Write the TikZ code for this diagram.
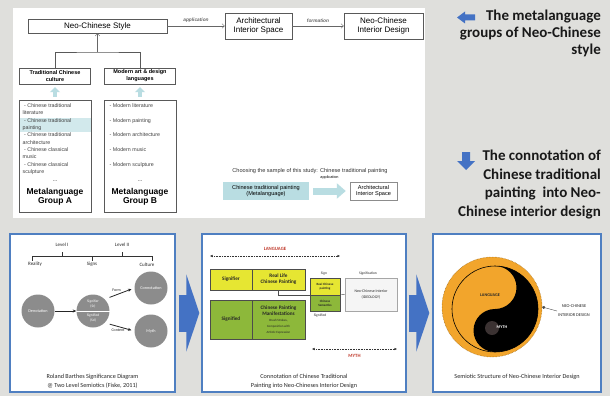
\documentclass[tikz,border=0pt]{standalone}
\usepackage{fontspec}
\setmainfont{Liberation Sans}
\newfontfamily\carlito{Carlito}
\usetikzlibrary{arrows.meta,positioning,calc}
\definecolor{BgGrey}{HTML}{DFDFDC}
\definecolor{PaleTeal}{HTML}{D2E9EC}
\definecolor{ArrTeal}{HTML}{B9DDE2}
\definecolor{FrameBlue}{HTML}{4F7FC1}
\definecolor{FatBlue}{HTML}{4472C4}
\definecolor{DiscGrey}{HTML}{8C8C8C}
\definecolor{SigYellow}{HTML}{E6E632}
\definecolor{SigGreen}{HTML}{8DB83A}
\definecolor{MythRed}{HTML}{C0392B}
\definecolor{YinOrange}{HTML}{F2A52C}
\definecolor{DotBrown}{HTML}{3B3232}
\newcommand{\fs}[2]{\fontsize{#1}{#2}\selectfont}
\newcommand{\minortxt}[1]{{\mdseries\fs{3.2}{4.6}#1}}
\tikzset{
  stylebox/.style={draw=black!65, fill=white, align=center, inner sep=1pt,
    font=\fs{8}{9}},
  grpbox/.style={draw=black!65, fill=white, align=center, inner sep=1pt,
    font=\bfseries\fs{5.5}{7}, minimum height=16pt, minimum width=71pt},
  listbox/.style={draw=black!65, fill=white, minimum width=72pt, minimum height=112pt},
  itemtxt/.style={anchor=north west, align=left, inner sep=0pt,
    font=\fs{5.3}{7.35}, text=black!75},
  grptxt/.style={align=center, inner sep=0pt, font=\bfseries\fs{8.5}{9.6}},
  thinarr/.style={-{Straight Barb[length=2.5pt,width=4.5pt]}, black!60, thin},
  tealup/.style={-{Triangle[width=10pt,length=5pt]}, line width=4.5pt, ArrTeal,
    shorten <=3pt, shorten >=3pt},
  actlbl/.style={font=\bfseries\itshape\fs{4.8}{5}, inner sep=1.5pt},
  panel/.style={draw=FrameBlue, line width=1.4pt, fill=white, minimum width=#1,
    minimum height=158pt, inner sep=0pt},
  bigarr/.style={-{Triangle[width=77pt,length=13pt]}, line width=37pt, FatBlue},
  notetxt/.style={anchor=north east, align=right, inner sep=0pt, text=black!90},
}

\begin{document}
\begin{tikzpicture}[x=1pt, y=-1pt,
  smalltxt/.style={font=\carlito\fs{5}{6}, inner sep=0.5pt, text=black!85},
  disc/.style={circle, fill=DiscGrey, minimum size=33pt, inner sep=0pt,
    text=white, align=center, font=\carlito\fs{4.2}{5}},
  disctxt/.style={align=center, inner sep=0pt, text=white, font=\carlito\fs{3.6}{4.3}},
  darkarr/.style={-{Stealth[length=3.5pt,width=3pt]}, line width=0.8pt, black!85},
  captxt/.style={align=center, inner sep=0pt, font=\carlito\fs{6.2}{9}, text=black!85},
  sigbox/.style={draw=black!70, line width=0.4pt, align=center, inner sep=0pt,
    font=\carlito\bfseries\fs{5.2}{6}, text=black!85},
  tinytxt/.style={align=center, inner sep=0pt, font=\carlito\fs{3.6}{4.3}, text=black!85},
  spanarr/.style={{Latex[length=2.5pt,width=2.5pt]}-{Latex[length=2.5pt,width=2.5pt]},
    dash pattern=on 0.8pt off 0.8pt, line width=0.4pt, black!80},
  redtxt/.style={font=\carlito\bfseries\fs{4.8}{5}, text=MythRed, inner sep=0pt},
]
  \useasboundingbox (0,0) rectangle (610,396);
  \fill[BgGrey] (0,0) rectangle (610,396);
  \fill[white] (13,8) rectangle (425,218);

  \node[stylebox, minimum width=139pt, minimum height=14pt] (ncs) at (97.5,26) {Neo-Chinese Style};
  \node[stylebox, minimum width=67pt, minimum height=26pt] (ais) at (258.5,26) {Architectural\\Interior Space};
  \node[stylebox, minimum width=79pt, minimum height=26pt] (ncid) at (383.5,26) {Neo-Chinese\\Interior Design};
  \draw[thinarr] (ncs) -- node[above, actlbl, yshift=2pt] {application} (ais);
  \draw[thinarr] (ais) -- node[above, actlbl, yshift=2pt] {formation} (ncid);

  \node[grpbox] (tcc) at (55,76) {Traditional Chinese\\culture};
  \node[grpbox] (mad) at (140,76) {Modern art \& design\\languages};
  \coordinate (fork) at (97.5,52);
  \draw[black!65] (tcc.north) |- (fork) -| (mad.north);
  \draw[thinarr] (fork) -- (ncs.south);

  \node[listbox] (lista) at (55,156) {};
  \node[fill=PaleTeal, minimum width=71pt, minimum height=14pt, inner sep=0pt] (hilite) at (55,125) {};
  \node[itemtxt] (itemsa) at (22.5,103.5)
    {\hspace{1.5pt}- Chinese traditional\\literature\\
     \hspace{1.5pt}- Chinese traditional\\painting\\
     \hspace{1.5pt}- Chinese traditional\\architecture\\
     \hspace{1.5pt}- Chinese classical\\music\\
     \hspace{1.5pt}- Chinese classical\\sculpture};
  \node[font=\fs{5.3}{6}, inner sep=0pt] (dotsa) at (55,181) {...};
  \node[grptxt] (grpa) at (55,197) {Metalanguage\\Group A};
  \draw[tealup] (lista.north) -- (tcc.south);

  \node[listbox] (listb) at (140,156) {};
  \node[itemtxt, font=\fs{5.3}{14.7}] (itemsb) at (109.5,103.5)
    {- Modern literature\\- Modern painting\\- Modern architecture\\- Modern music\\- Modern sculpture};
  \node[font=\fs{5.3}{6}, inner sep=0pt] (dotsb) at (140,181) {...};
  \node[grptxt] (grpb) at (140,197) {Metalanguage\\Group B};
  \draw[tealup] (listb.north) -- (mad.south);

  \node[font=\fs{5.6}{6}, text=black!80] (choose) at (310,171) {Choosing the sample of this study: Chinese traditional painting};
  \node[fill=ArrTeal, minimum width=86pt, minimum height=18pt, align=center,
    font=\fs{5.6}{6.8}, inner sep=0pt] (ctp) at (266,191) {Chinese traditional painting\\(Metalanguage)};
  \node[draw=black!45, fill=white, minimum width=47pt, minimum height=18pt, align=center,
    font=\fs{5.6}{6.8}, inner sep=0pt] (ais2) at (373.5,191) {Architectural\\Interior Space};
  \draw[-{Triangle[width=15pt,length=9pt]}, line width=7pt, ArrTeal, shorten <=4pt, shorten >=4pt]
    (ctp) -- node[above=5pt, font=\fs{3.8}{4}, text=black] {application} (ais2);

  % notes on the right
  \node[notetxt, font=\carlito\bfseries\fs{15}{17}] (metanote) at (601,9.5)
    {The metalanguage\\groups of Neo-Chinese\\style};
  \fill[FatBlue] (457,17.5) -- (465,11.5) -- (465,14.5) -- (475,14.5) -- (475,20.5)
    -- (465,20.5) -- (465,23.5) -- cycle;
  \node[notetxt, font=\carlito\bfseries\fs{15}{18.6}] (connote) at (601,150)
    {The connotation of\\Chinese traditional\\painting~ into Neo-\\Chinese interior design};
  \fill[FatBlue] (466,170) -- (457,161) -- (462,161) -- (462,152) -- (470,152)
    -- (470,161) -- (475,161) -- cycle;

  % bottom panels
  \node[panel=165pt] (barthes) at (92.5,313) {};
  \node[panel=204pt] (connot) at (304,313) {};
  \node[panel=168pt] (semio) at (517,313) {};
  \draw[bigarr, shorten <=3pt, shorten >=2pt] (barthes) -- (connot);
  \draw[bigarr, shorten <=2pt, shorten >=3pt] (connot) -- (semio);

  \node[smalltxt] (lvl1) at (62,245) {Level I};
  \node[smalltxt] (lvl2) at (122,245) {Level II};
  \draw[black!80, line width=0.6pt] (32,260.5) -- (32,256.7) -- (152,256.7) -- (152,260.5);
  \draw[black!80, line width=0.6pt] (92,256.7) -- (92,260.5);
  \draw[black!80, line width=0.6pt] (62,252) -- (62,256.7);
  \draw[black!80, line width=0.6pt] (122,252) -- (122,256.7);
  \node[smalltxt] (reality) at (35,264.5) {Reality};
  \node[smalltxt] (signs) at (92,264.5) {Signs};
  \node[smalltxt] (culture) at (147,264.5) {Culture};
  \node[disc] (deno) at (38,311) {Denotation};
  \node[disc] (sign) at (93,311) {};
  \draw[white, dash pattern=on 1.2pt off 0.8pt, line width=0.4pt] (sign.west) -- (sign.east);
  \node[disctxt] (sigr) at (93,304) {Signifier\\(Sr)};
  \node[disctxt] (sigd) at (93,318) {Signified\\(Sd)};
  \node[disc] (conno) at (151,288) {Connotation};
  \node[disc] (myth) at (151,331) {Myth};
  \draw[darkarr] (deno) -- (sign);
  \draw[darkarr, shorten <=5pt, shorten >=3pt] (sign.north east)
    -- node[above, smalltxt, pos=0.4, yshift=2pt, font=\carlito\fs{4}{5}] (formlbl) {Form} (conno.west);
  \draw[darkarr, shorten <=5pt, shorten >=3pt] (sign.south east)
    -- node[below, smalltxt, pos=0.45, yshift=-2pt, font=\carlito\fs{4}{5}] (contlbl) {Content} (myth.west);
  \node[captxt] (barthescap) at (92.5,381.5) {Roland Barthes Significance Diagram\\@ Two Level Semiotics (Fiske, 2011)};

  \coordinate (langL) at (210,256);
  \coordinate (langR) at (340,256);
  \draw[spanarr] (langL) -- node[above=5pt, redtxt] (langlbl) {LANGUAGE} (langR);
  \node[sigbox, fill=SigYellow, minimum width=42pt, minimum height=21pt] (sigfr) at (231,279.5) {Signifier};
  \node[sigbox, fill=SigYellow, minimum width=53pt, minimum height=21pt] (rlcp) at (278.5,279.5) {Real Life\\Chinese Painting};
  \node[sigbox, fill=SigGreen, minimum width=42pt, minimum height=39pt] (sigfd) at (231,319.5) {Signified};
  \node[sigbox, fill=SigGreen, minimum width=53pt, minimum height=39pt] (cpm) at (278.5,319.5)
    {Chinese Painting\\Manifestations\\\minortxt{Brush Strokes,}\\\minortxt{Composition with}\\\minortxt{Artistic Expression}};
  \node[sigbox, fill=SigYellow, minimum width=30pt, minimum height=17pt, font=\carlito\bfseries\fs{3.2}{4}] (sgntop) at (325,286.5) {Real Chinese\\painting};
  \node[sigbox, fill=SigGreen, minimum width=30pt, minimum height=16pt, font=\carlito\bfseries\fs{3.2}{4}] (sgnbot) at (325,303) {Chinese\\Semantics};
  \node[sigbox, fill=black!4, draw=black!35, minimum width=52pt, minimum height=33pt,
    font=\carlito\fs{3.9}{6}] (ideo) at (371,294.5) {Neo-Chinese Interior\\(IDEOLOGY)};
  \draw[black!70, line width=0.4pt] (rlcp.south) |- (sgntop.south west);
  \draw[black!70, line width=0.4pt] (sgnbot.north east) -- (ideo.west);
  \node[tinytxt] (signlbl) at (324,274) {Sign};
  \node[tinytxt] (sgfnlbl) at (368,274) {Signification};
  \node[tinytxt] (sigdlbl) at (320,315.5) {Signified};
  \coordinate (mythL) at (312,349);
  \coordinate (mythR) at (397,349);
  \draw[spanarr] (mythL) -- node[below=5pt, redtxt] (mythlbl) {MYTH} (mythR);
  \node[captxt] (connotcap) at (304,381.5) {Connotation of Chinese Traditional\\Painting into Neo-Chineses Interior Design};

  \node[circle, fill=YinOrange, draw=YinOrange!60!black, densely dotted, line width=0.5pt,
    minimum size=100pt, inner sep=0pt] (yydisc) at (492,307) {};
  \fill[black] (495,266) arc[start angle=-90, end angle=90, radius=43]
    arc[start angle=90, end angle=270, radius=21.5]
    arc[start angle=90, end angle=-90, radius=21.5] -- cycle;
  \draw[black, line width=0.6pt] (495,309) circle[radius=43];
  \fill[DotBrown] (492,328) circle[radius=7];
  \node[font=\carlito\bfseries\fs{4.2}{5}, text=black!85, inner sep=0pt] (langyy) at (490,295) {LANGUAGE};
  \node[font=\carlito\bfseries\fs{4.2}{5}, text=white, inner sep=0pt] (mythyy) at (502,327) {MYTH};
  \node[font=\carlito\fs{4.4}{9}, align=center, inner sep=1pt, text=black!85] (ncidlbl) at (574,311) {NEO-CHINESE\\INTERIOR DESIGN};
  \draw[{Circle[length=3pt]}-, black!70, line width=0.4pt] (yydisc.east) -- (ncidlbl.west);
  \node[captxt] (semiocap) at (517,377) {Semiotic Structure of Neo-Chinese Interior Design};
\end{tikzpicture}
\end{document}
